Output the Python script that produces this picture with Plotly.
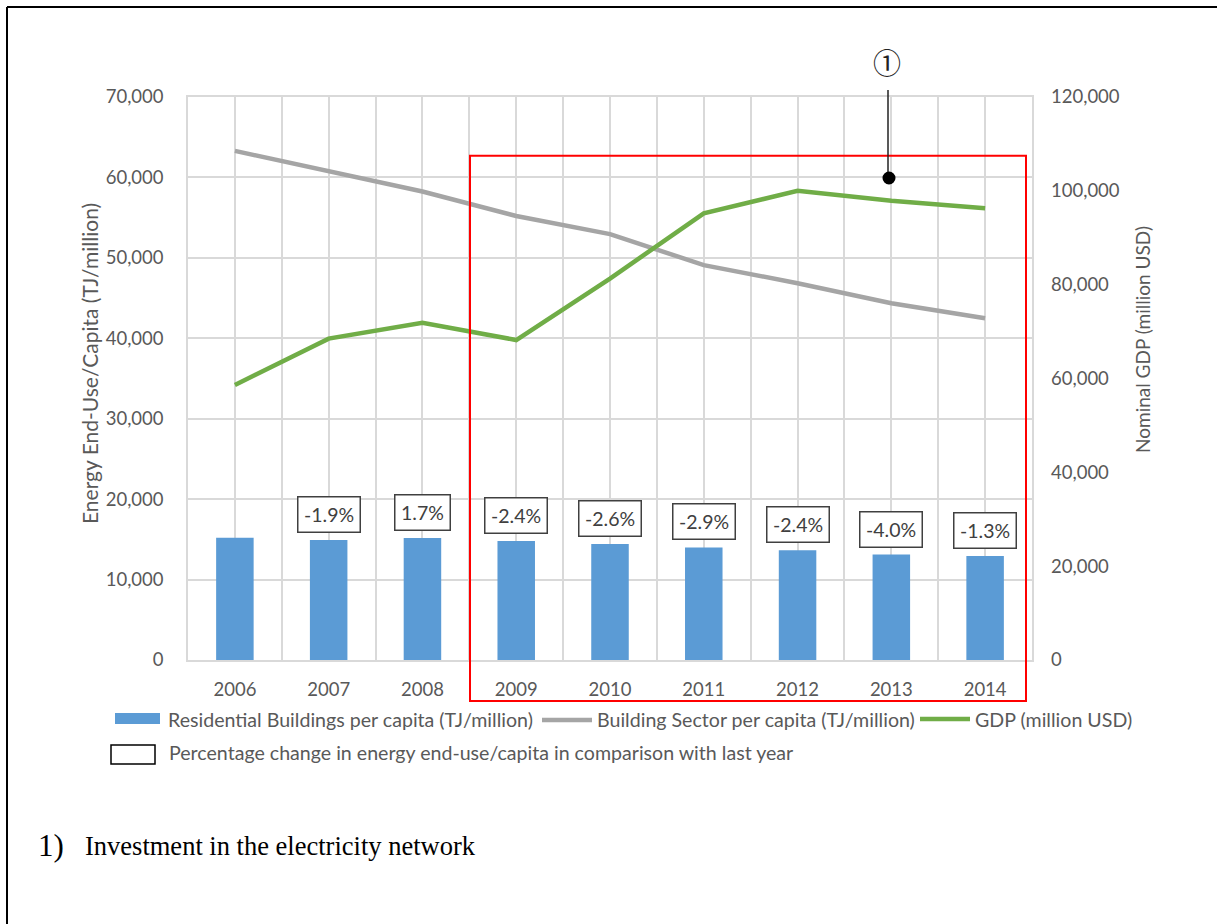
import plotly.graph_objects as go

# ---- data -------------------------------------------------------------
years = [2006, 2007, 2008, 2009, 2010, 2011, 2012, 2013, 2014]
residential_per_capita = [15200, 14910, 15165, 14800, 14415, 13995, 13660, 13115, 12945]
building_sector_per_capita = [63300, 60800, 58250, 55200, 52950, 49100, 46850, 44350, 42500]
gdp_million_usd = [58600, 68500, 71900, 68200, 81300, 95200, 100000, 97900, 96300]
pct_change_labels = ["", "-1.9%", "1.7%", "-2.4%", "-2.6%", "-2.9%", "-2.4%", "-4.0%", "-1.3%"]

left_ticks = [0, 10000, 20000, 30000, 40000, 50000, 60000, 70000]
right_ticks = [0, 20000, 40000, 60000, 80000, 100000, 120000]

BLUE = "#5B9BD5"
GREY = "#A5A5A5"
GREEN = "#70AD47"
GRID = "#D9D9D9"
TXT = "#595959"
FONT = "Lato"

fig = go.Figure()

fig.add_trace(go.Bar(
    x=years, y=residential_per_capita, width=0.4,
    marker=dict(color=BLUE, line=dict(width=0)),
    name="Residential Buildings per capita (TJ/million)", yaxis="y",
))
fig.add_trace(go.Scatter(
    x=years, y=building_sector_per_capita, mode="lines",
    line=dict(color=GREY, width=4.5),
    name="Building Sector per capita (TJ/million)", yaxis="y",
))
fig.add_trace(go.Scatter(
    x=years, y=gdp_million_usd, mode="lines",
    line=dict(color=GREEN, width=4.5),
    name="GDP (million USD)", yaxis="y2",
))

annotations = []

# year-on-year change boxes sitting on top of each bar
for yr, val, lab in zip(years, residential_per_capita, pct_change_labels):
    if not lab:
        continue
    annotations.append(dict(
        x=yr, y=val, xref="x", yref="y", text=lab, showarrow=False,
        yanchor="bottom", yshift=7,
        font=dict(family=FONT, size=19.5, color="#404040"),
        bordercolor="#404040", borderwidth=1.5, borderpad=5.5, bgcolor="white",
    ))

# axis titles
annotations.append(dict(
    x=-0.1161, y=0.5258, xref="paper", yref="paper", textangle=-90,
    text="Energy End-Use/Capita (TJ/million)", showarrow=False,
    xanchor="center", yanchor="middle",
    font=dict(family=FONT, size=21, color=TXT),
))
annotations.append(dict(
    x=1.1315, y=0.5702, xref="paper", yref="paper", textangle=-90,
    text="Nominal GDP (million USD)", showarrow=False,
    xanchor="center", yanchor="middle",
    font=dict(family=FONT, size=19, color=TXT),
))

# callout marker label
annotations.append(dict(
    x=0.8282, y=1.0586, xref="paper", yref="paper", text="①", showarrow=False,
    xanchor="center", yanchor="middle",
    font=dict(family="Liberation Serif, Noto Sans CJK JP", size=28, color="#222222"),
))


def px_x(px):
    return (px - 188) / 844


def px_y(py):
    return (660 - py) / 563


# legend texts
legend_texts = [
    (166, 719, "Residential Buildings per capita (TJ/million)"),
    (595, 719, "Building Sector per capita (TJ/million)"),
    (973, 719, "GDP (million USD)"),
    (167, 752, "Percentage change in energy end-use/capita in comparison with last year"),
]
for lx, ly, lt in legend_texts:
    annotations.append(dict(
        x=px_x(lx), y=px_y(ly), xref="paper", yref="paper", text=lt,
        showarrow=False, xanchor="left", yanchor="middle",
        font=dict(family=FONT, size=19.6, color=TXT),
    ))

# footnote
annotations.append(dict(
    x=px_x(36), y=px_y(845), xref="paper", yref="paper", text="1)",
    showarrow=False, xanchor="left", yanchor="middle",
    font=dict(family="Liberation Serif", size=31, color="black"),
))
annotations.append(dict(
    x=px_x(83), y=px_y(846), xref="paper", yref="paper",
    text="Investment in the electricity network",
    showarrow=False, xanchor="left", yanchor="middle",
    font=dict(family="Liberation Serif", size=26.5, color="black"),
))

shapes = [
    # page frame (top and left edges)
    dict(type="line", xref="paper", yref="paper", x0=px_x(7), x1=px_x(1217),
         y0=px_y(7), y1=px_y(7), line=dict(color="black", width=2)),
    dict(type="line", xref="paper", yref="paper", x0=px_x(7), x1=px_x(7),
         y0=px_y(7), y1=px_y(924), line=dict(color="black", width=2)),
    # highlighted period 2009-2014
    dict(type="rect", xref="paper", yref="paper", x0=px_x(470), x1=px_x(1026),
         y0=px_y(701), y1=px_y(155.7), line=dict(color="#FF0000", width=2),
         fillcolor="rgba(0,0,0,0)", layer="above"),
    # callout leader and dot
    dict(type="line", xref="paper", yref="paper", x0=px_x(888), x1=px_x(888),
         y0=px_y(90), y1=px_y(178), line=dict(color="#222222", width=1.5)),
    dict(type="circle", xref="paper", yref="paper", x0=px_x(882.5), x1=px_x(895.5),
         y0=px_y(184.5), y1=px_y(171.5), fillcolor="black", line=dict(color="black", width=0)),
    # legend swatches
    dict(type="rect", xref="paper", yref="paper", x0=px_x(115), x1=px_x(160),
         y0=px_y(724), y1=px_y(713), fillcolor=BLUE, line=dict(width=0)),
    dict(type="line", xref="paper", yref="paper", x0=px_x(542), x1=px_x(592),
         y0=px_y(720), y1=px_y(720), line=dict(color=GREY, width=4.5)),
    dict(type="line", xref="paper", yref="paper", x0=px_x(920), x1=px_x(970),
         y0=px_y(719), y1=px_y(719), line=dict(color=GREEN, width=4.5)),
    dict(type="rect", xref="paper", yref="paper", x0=px_x(111), x1=px_x(155),
         y0=px_y(764), y1=px_y(745), fillcolor="white", line=dict(color="black", width=1.5)),
]

fig.update_layout(
    width=1217, height=924, autosize=False,
    margin=dict(l=188, r=185, t=97, b=264, pad=0),
    paper_bgcolor="white", plot_bgcolor="white",
    showlegend=False, bargap=0.6,
    font=dict(family=FONT, size=18, color=TXT),
    xaxis=dict(
        range=[2005.5, 2014.5], tickmode="array", tickvals=years,
        ticktext=[str(y) for y in years],
        showgrid=True, gridcolor=GRID, gridwidth=1.5,
        minor=dict(tick0=2005.5, dtick=1, showgrid=True, gridcolor=GRID, gridwidth=1.5),
        showline=True, linecolor=GRID, linewidth=1.5, mirror=True,
        ticks="", ticklabelstandoff=12, zeroline=False,
        tickfont=dict(family=FONT, size=18.5, color=TXT),
    ),
    yaxis=dict(
        range=[0, 70000], tickmode="array", tickvals=left_ticks, tickformat=",",
        showgrid=True, gridcolor=GRID, gridwidth=1.5,
        showline=True, linecolor=GRID, linewidth=1.5, mirror=True,
        ticks="", ticklabelstandoff=19, zeroline=False,
        tickfont=dict(family=FONT, size=18.5, color=TXT),
    ),
    yaxis2=dict(
        range=[0, 120000], tickmode="array", tickvals=right_ticks, tickformat=",",
        overlaying="y", side="right", showgrid=False, zeroline=False,
        showline=False, ticks="", ticklabelstandoff=18,
        tickfont=dict(family=FONT, size=18.5, color=TXT),
    ),
    annotations=annotations,
    shapes=shapes,
)

fig.write_html("out.html")
